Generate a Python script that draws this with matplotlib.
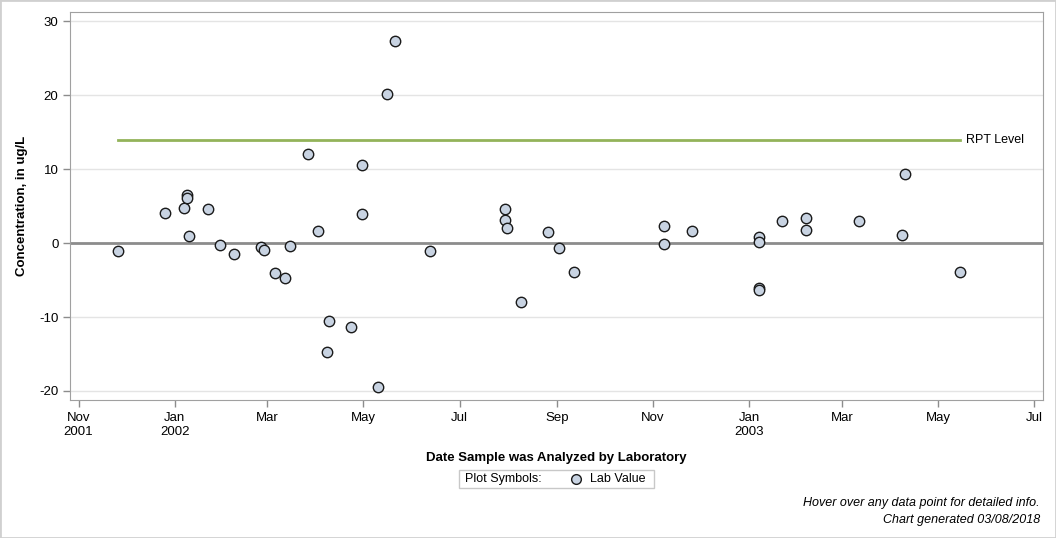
import numpy as np
import pandas as pd
import matplotlib
matplotlib.use("Agg")
import matplotlib.pyplot as plt
import matplotlib.dates as mdates
from matplotlib.patches import Rectangle
from matplotlib.lines import Line2D

plt.rcParams['font.family'] = ['Liberation Sans', 'DejaVu Sans']

# lab values
dates = ['2001-11-26', '2001-12-26', '2002-01-07', '2002-01-09', '2002-01-09',
         '2002-01-10', '2002-01-22', '2002-01-30', '2002-02-08', '2002-02-25',
         '2002-02-27', '2002-03-06', '2002-03-12', '2002-03-15', '2002-03-27',
         '2002-04-02', '2002-04-08', '2002-04-09', '2002-04-23', '2002-04-30',
         '2002-04-30', '2002-05-10', '2002-05-16', '2002-05-21', '2002-06-12',
         '2002-07-30', '2002-07-30', '2002-07-31', '2002-08-09', '2002-08-26',
         '2002-09-02', '2002-09-12', '2002-11-08', '2002-11-08', '2002-11-26',
         '2003-01-07', '2003-01-07', '2003-01-07', '2003-01-07', '2003-01-22',
         '2003-02-06', '2003-02-06', '2003-03-12', '2003-04-08', '2003-04-10',
         '2003-05-15']
values = [-1.1, 4.05, 4.7, 6.5, 6.15,
          0.9, 4.55, -0.3, -1.5, -0.55,
          -0.95, -4.1, -4.7, -0.4, 12.0,
          1.6, -14.7, -10.6, -11.4, 10.5,
          3.9, -19.5, 20.1, 27.3, -1.1,
          4.6, 3.1, 2.1, -8.0, 1.5,
          -0.7, -3.9, 2.25, -0.15, 1.6,
          0.8, 0.2, -6.1, -6.35, 2.95,
          3.35, 1.7, 2.95, 1.05, 9.3,
          -3.95]
rpt_level = 14.0

tick_dates = ['2001-11-01', '2002-01-01', '2002-03-01', '2002-05-01', '2002-07-01',
              '2002-09-01', '2002-11-01', '2003-01-01', '2003-03-01', '2003-05-01',
              '2003-07-01']
tick_labels = ['Nov\n2001', 'Jan\n2002', 'Mar', 'May', 'Jul', 'Sep', 'Nov',
               'Jan\n2003', 'Mar', 'May', 'Jul']

x = pd.to_datetime(dates)

fig = plt.figure(figsize=(10.56, 5.38), dpi=100)
ax = fig.add_axes([0.0666, 0.256, 0.9208, 0.7211])

for yv in [-20, -10, 10, 20, 30]:
    ax.axhline(yv, color='#e4e4e4', lw=1, zorder=0)
ax.axhline(0, color='#8c8c8c', lw=2, zorder=1)

ax.plot([x.min(), x.max()], [rpt_level, rpt_level], color='#93b35a', lw=2, zorder=2)
ax.text(x.max() + pd.Timedelta(days=4), rpt_level, 'RPT Level', va='center',
        ha='left', fontsize=9)

ax.plot(x, values, ls='none', marker='o', ms=7.5, mfc='#c8d3e2', mec='#1a1a1a',
        mew=1, zorder=3)

ax.set_xlim(pd.Timestamp('2001-10-26 18:00'), pd.Timestamp('2003-07-06 12:00'))
ax.set_ylim(-21.26, 31.2)
ax.set_xticks(pd.to_datetime(tick_dates))
ax.set_xticklabels(tick_labels, fontsize=9.5)
ax.set_yticks([-20, -10, 0, 10, 20, 30])
ax.set_yticklabels(['-20', '-10', '0', '10', '20', '30'], fontsize=9.5)
ax.tick_params(color='#8c8c8c', length=5, width=1)
for s in ax.spines.values():
    s.set_color('#a0a0a0')

ax.set_ylabel('Concentration, in ug/L', fontsize=9.5, fontweight='bold', labelpad=8)
ax.set_xlabel('Date Sample was Analyzed by Laboratory', fontsize=9.5,
              fontweight='bold', labelpad=10)

# legend box
fig.patches.append(Rectangle((459 / 1056, 1 - 488 / 538), 195 / 1056, 18 / 538,
                             transform=fig.transFigure, fill=False,
                             edgecolor='#c8c8c8', lw=1))
fig.text(465 / 1056, 1 - 479 / 538, 'Plot Symbols:', fontsize=9, va='center')
fig.lines.append(Line2D([576 / 1056], [1 - 479 / 538], transform=fig.transFigure,
                        marker='o', ms=7, mfc='#c8d3e2', mec='#1a1a1a', mew=1))
fig.text(590 / 1056, 1 - 479 / 538, 'Lab Value', fontsize=9, va='center')

fig.text(1040 / 1056, 1 - 503 / 538, 'Hover over any data point for detailed info.',
         ha='right', va='center', fontsize=9, style='italic')
fig.text(1040 / 1056, 1 - 520 / 538, 'Chart generated 03/08/2018',
         ha='right', va='center', fontsize=9, style='italic')

fig.patches.append(Rectangle((0, 0), 1, 1, transform=fig.transFigure, fill=False,
                             edgecolor='#d0d0d0', lw=2))

fig.savefig('out.png', dpi=100)
